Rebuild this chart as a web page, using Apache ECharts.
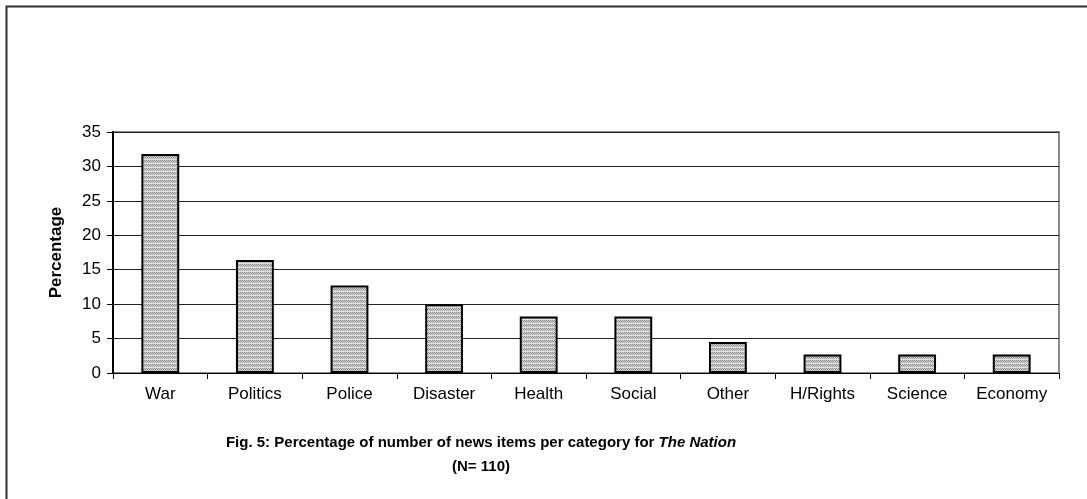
<!DOCTYPE html>
<html><head><meta charset="utf-8">
<script src="https://cdn.jsdelivr.net/npm/echarts@6/dist/echarts.min.js"></script>
<style>html,body{margin:0;padding:0;background:#fff}#c{width:1087px;height:499px}</style>
</head><body><div id="c"></div>
<script>
const categories = ['War','Politics','Police','Disaster','Health','Social','Other','H/Rights','Science','Economy'];
const percentages = [31.8,16.4,12.7,10.0,8.2,8.2,4.5,2.7,2.7,2.7];
const yTicks = [0,5,10,15,20,25,30,35];

const pc = document.createElement('canvas');
pc.width = 4; pc.height = 4;
const g = pc.getContext('2d');
g.fillStyle = '#d4d4d4'; g.fillRect(0,0,4,4);
g.fillStyle = '#8a8a8a';
g.fillRect(0,0,1,1); g.fillRect(2,0,1,1); g.fillRect(1,1,1,1); g.fillRect(3,1,1,1);
g.fillStyle = '#aaaaaa';
g.fillRect(0,2,1,1); g.fillRect(2,2,1,1);
g.fillStyle = '#ebebeb';
g.fillRect(1,3,1,1); g.fillRect(3,3,1,1);

const fam = '"Liberation Sans", Arial, sans-serif';
const chart = echarts.init(document.getElementById('c'));
chart.setOption({
  animation:false,
  grid:{left:113,top:132,right:28,bottom:126,show:true,borderColor:'#8a8a8a',borderWidth:2,backgroundColor:'transparent'},
  graphic:[
    {type:'rect',shape:{x:6.5,y:6.5,width:1200,height:600},style:{fill:null,stroke:'#333',lineWidth:2},silent:true,z:-1},
    {type:'text',x:481,y:443,style:{
      text:'{b|Fig. 5: Percentage of number of news items per category for }{i|The Nation}',
      align:'center',verticalAlign:'middle',
      rich:{
        b:{fontFamily:fam,fontWeight:'bold',fontSize:15,fill:'#000'},
        i:{fontFamily:fam,fontWeight:'bold',fontStyle:'italic',fontSize:15,fill:'#000'}
      }
    }},
    {type:'text',x:481,y:467,style:{text:'(N= 110)',align:'center',verticalAlign:'middle',
      fontFamily:fam,fontWeight:'bold',fontSize:15,fill:'#000'}}
  ],
  xAxis:{
    type:'category',data:categories,
    axisLine:{lineStyle:{color:'#000',width:1}},
    axisTick:{show:true,inside:false,length:6,lineStyle:{color:'#000'}},
    axisLabel:{color:'#000',fontFamily:fam,fontSize:17,margin:13}
  },
  yAxis:{
    type:'value',min:0,max:35,interval:5,
    name:'Percentage',nameLocation:'middle',nameGap:48,
    nameTextStyle:{color:'#000',fontFamily:fam,fontWeight:'bold',fontSize:17},
    axisLine:{show:true,lineStyle:{color:'#000',width:2}},
    axisTick:{show:true,length:6,lineStyle:{color:'#000'}},
    axisLabel:{color:'#000',fontFamily:fam,fontSize:17,margin:12,
      formatter:v=>yTicks.includes(v)?String(v):''},
    splitLine:{show:true,lineStyle:{color:'#222',width:1}}
  },
  series:[{
    type:'bar',data:percentages,barWidth:'40%',
    itemStyle:{color:{image:pc,repeat:'repeat'},borderColor:'#000',borderWidth:2}
  }]
});
</script></body></html>
